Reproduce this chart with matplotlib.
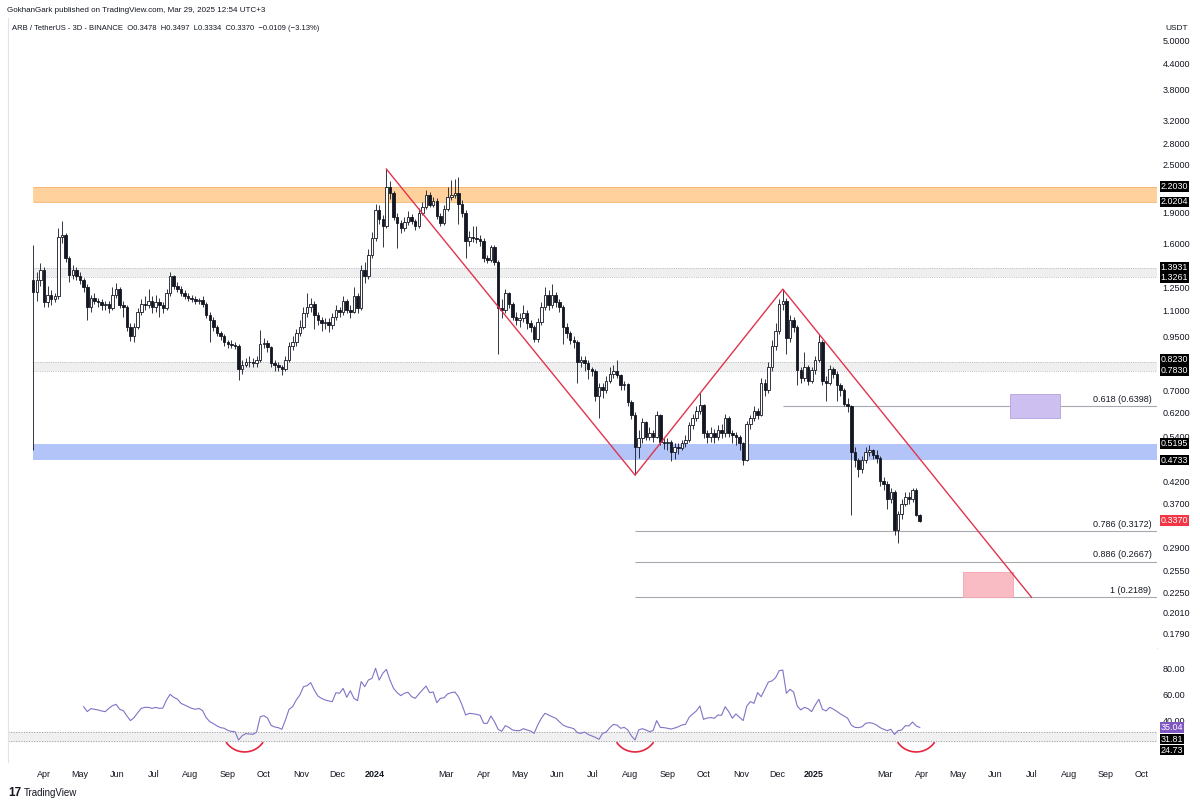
import numpy as np
import matplotlib.pyplot as plt
import matplotlib.dates as mdates
from matplotlib.patches import Rectangle
from matplotlib.ticker import NullLocator, NullFormatter

plt.rcParams['font.family'] = ['Liberation Sans', 'DejaVu Sans']

# ---------------- data ----------------
first_bar = np.datetime64('2023-03-23')
bar_days = 3
first_open = 1.30

closes = [
    1.22, 1.30, 1.38, 1.15, 1.20, 1.17, 1.19, 1.66, 1.68, 1.47,
    1.34, 1.38, 1.33, 1.30, 1.25, 1.12, 1.18, 1.16, 1.15, 1.13,
    1.14, 1.11, 1.20, 1.24, 1.13, 1.12, 1.00, 0.95, 1.00, 1.09,
    1.14, 1.13, 1.16, 1.12, 1.15, 1.13, 1.11, 1.21, 1.33, 1.26,
    1.24, 1.21, 1.19, 1.18, 1.17, 1.16, 1.165, 1.14, 1.07, 1.04,
    1.00, 0.965, 0.95, 0.92, 0.91, 0.905, 0.90, 0.79, 0.81, 0.82,
    0.822, 0.815, 0.83, 0.91, 0.915, 0.895, 0.815, 0.81, 0.80, 0.79,
    0.83, 0.90, 0.92, 0.965, 1.00, 1.08, 1.12, 1.14, 1.07, 1.04,
    1.02, 1.03, 1.01, 1.06, 1.10, 1.09, 1.16, 1.10, 1.09, 1.19,
    1.11, 1.38, 1.33, 1.50, 1.65, 1.93, 1.84, 1.76, 2.20, 2.12,
    1.86, 1.79, 1.74, 1.80, 1.86, 1.81, 1.76, 1.90, 1.96, 2.10,
    1.99, 2.03, 1.87, 1.79, 1.94, 2.08, 2.10, 2.12, 2.00, 1.90,
    1.62, 1.66, 1.65, 1.64, 1.62, 1.47, 1.46, 1.57, 1.44, 1.11,
    1.10, 1.21, 1.14, 1.06, 1.04, 1.05, 1.08, 1.02, 1.00, 0.935,
    1.03, 1.12, 1.20, 1.13, 1.20, 1.15, 1.12, 1.00, 0.965, 0.93,
    0.92, 0.82, 0.83, 0.815, 0.79, 0.78, 0.68, 0.715, 0.70, 0.74,
    0.77, 0.78, 0.765, 0.72, 0.725, 0.655, 0.61, 0.51, 0.535, 0.585,
    0.54, 0.55, 0.54, 0.61, 0.525, 0.52, 0.525, 0.495, 0.51, 0.507,
    0.52, 0.53, 0.575, 0.60, 0.625, 0.645, 0.55, 0.54, 0.55, 0.54,
    0.56, 0.55, 0.60, 0.55, 0.545, 0.54, 0.52, 0.473, 0.58, 0.60,
    0.625, 0.61, 0.73, 0.70, 0.80, 0.90, 0.98, 1.14, 1.16, 0.94,
    1.04, 1.00, 0.785, 0.75, 0.80, 0.74, 0.785, 0.83, 0.92, 0.74,
    0.73, 0.79, 0.77, 0.72, 0.70, 0.65, 0.64, 0.495, 0.473, 0.45,
    0.473, 0.495, 0.50, 0.488, 0.478, 0.42, 0.413, 0.38, 0.395, 0.32,
    0.35, 0.37, 0.385, 0.38, 0.40, 0.3478, 0.3370]

highs = [
    1.59, 1.36, 1.43, 1.40, 1.26, 1.23, 1.21, 1.74, 1.81, 1.70,
    1.49, 1.42, 1.40, 1.36, 1.32, 1.27, 1.20, 1.21, 1.18, 1.17,
    1.16, 1.16, 1.25, 1.28, 1.25, 1.16, 1.13, 1.02, 1.02, 1.11,
    1.17, 1.19, 1.24, 1.19, 1.20, 1.18, 1.15, 1.24, 1.36, 1.34,
    1.29, 1.26, 1.23, 1.21, 1.20, 1.19, 1.18, 1.19, 1.15, 1.09,
    1.06, 1.01, 0.98, 0.96, 0.93, 0.93, 0.92, 0.91, 0.83, 0.84,
    0.85, 0.84, 0.85, 0.985, 0.94, 0.93, 0.90, 0.83, 0.82, 0.81,
    0.85, 0.92, 0.95, 0.99, 1.04, 1.12, 1.21, 1.18, 1.16, 1.09,
    1.06, 1.05, 1.05, 1.08, 1.13, 1.12, 1.19, 1.17, 1.13, 1.25,
    1.21, 1.42, 1.44, 1.55, 1.71, 2.00, 1.98, 1.88, 2.43, 2.27,
    2.15, 1.90, 1.82, 1.86, 1.92, 1.89, 1.84, 1.95, 2.02, 2.16,
    2.13, 2.08, 2.06, 1.90, 1.98, 2.20, 2.28, 2.30, 2.33, 2.04,
    1.93, 1.72, 1.76, 1.76, 1.68, 1.65, 1.50, 1.59, 1.59, 1.46,
    1.17, 1.24, 1.22, 1.15, 1.09, 1.08, 1.13, 1.10, 1.04, 1.01,
    1.05, 1.15, 1.25, 1.23, 1.27, 1.22, 1.17, 1.13, 1.02, 0.98,
    0.95, 0.93, 0.85, 0.85, 0.83, 0.80, 0.79, 0.73, 0.73, 0.76,
    0.80, 0.81, 0.83, 0.77, 0.74, 0.73, 0.665, 0.62, 0.56, 0.60,
    0.59, 0.57, 0.56, 0.625, 0.615, 0.535, 0.535, 0.53, 0.52, 0.52,
    0.53, 0.545, 0.585, 0.615, 0.64, 0.69, 0.65, 0.56, 0.57, 0.565,
    0.575, 0.58, 0.615, 0.605, 0.56, 0.555, 0.545, 0.525, 0.59, 0.61,
    0.64, 0.635, 0.75, 0.745, 0.82, 0.93, 1.02, 1.17, 1.237, 1.18,
    1.07, 1.06, 1.01, 0.80, 0.87, 0.81, 0.80, 0.85, 0.96, 0.93,
    0.76, 0.81, 0.80, 0.78, 0.73, 0.71, 0.67, 0.645, 0.51, 0.48,
    0.485, 0.51, 0.515, 0.505, 0.50, 0.485, 0.43, 0.42, 0.405, 0.40,
    0.355, 0.38, 0.395, 0.395, 0.405, 0.405, 0.3497]

lows = [
    0.50, 1.16, 1.26, 1.12, 1.12, 1.13, 1.15, 1.17, 1.60, 1.44,
    1.29, 1.31, 1.30, 1.27, 1.22, 1.04, 1.09, 1.14, 1.12, 1.10,
    1.10, 1.08, 1.10, 1.18, 1.11, 1.06, 0.98, 0.925, 0.92, 0.99,
    1.07, 1.10, 1.11, 1.08, 1.09, 1.06, 1.08, 1.10, 1.19, 1.24,
    1.22, 1.19, 1.17, 1.16, 1.15, 1.14, 1.14, 1.12, 1.05, 0.92,
    0.98, 0.95, 0.93, 0.90, 0.89, 0.89, 0.885, 0.742, 0.77, 0.80,
    0.80, 0.80, 0.80, 0.82, 0.89, 0.87, 0.80, 0.78, 0.78, 0.765,
    0.78, 0.82, 0.88, 0.90, 0.95, 0.99, 1.06, 1.09, 0.99, 1.01,
    0.98, 0.99, 0.97, 0.99, 1.04, 1.06, 1.07, 1.08, 1.05, 1.08,
    1.08, 1.10, 1.28, 1.31, 1.47, 1.62, 1.78, 1.57, 1.74, 2.05,
    1.83, 1.56, 1.70, 1.72, 1.77, 1.78, 1.73, 1.74, 1.88, 1.94,
    1.96, 1.96, 1.84, 1.76, 1.77, 1.92, 2.04, 2.06, 1.78, 1.86,
    1.47, 1.58, 1.61, 1.60, 1.58, 1.44, 1.43, 1.44, 1.42, 0.86,
    1.05, 1.08, 1.11, 1.04, 1.01, 1.00, 1.03, 0.99, 0.97, 0.92,
    0.92, 1.01, 1.10, 1.10, 1.11, 1.12, 1.09, 0.91, 0.94, 0.91,
    0.89, 0.73, 0.80, 0.78, 0.745, 0.76, 0.66, 0.60, 0.67, 0.69,
    0.73, 0.75, 0.75, 0.70, 0.70, 0.64, 0.595, 0.435, 0.48, 0.52,
    0.53, 0.53, 0.525, 0.535, 0.515, 0.505, 0.50, 0.47, 0.475, 0.49,
    0.50, 0.51, 0.525, 0.565, 0.59, 0.615, 0.535, 0.52, 0.525, 0.52,
    0.53, 0.535, 0.54, 0.54, 0.52, 0.515, 0.50, 0.46, 0.47, 0.565,
    0.59, 0.595, 0.605, 0.68, 0.69, 0.78, 0.88, 0.96, 1.10, 0.86,
    0.92, 0.97, 0.72, 0.73, 0.74, 0.72, 0.73, 0.77, 0.82, 0.72,
    0.66, 0.72, 0.75, 0.66, 0.68, 0.64, 0.62, 0.347, 0.455, 0.43,
    0.44, 0.465, 0.485, 0.475, 0.465, 0.41, 0.40, 0.36, 0.372, 0.31,
    0.297, 0.34, 0.365, 0.37, 0.375, 0.345, 0.3334]

rsi_first = 14
rsi = [
    51.0, 47.2, 49.5, 49.0, 48.5, 47.7, 47.2, 49.7, 51.8, 52.8,
    49.0, 48.0, 43.9, 40.3, 42.6, 46.4, 49.7, 50.5, 50.5, 49.7,
    50.5, 49.7, 50.0, 56.2, 60.5, 58.2, 56.9, 53.6, 52.3, 51.0,
    49.7, 49.0, 49.7, 48.0, 42.6, 39.5, 38.0, 36.2, 34.9, 34.4,
    32.8, 32.0, 31.8, 25.4, 28.7, 30.3, 30.0, 29.7, 31.5, 43.3,
    44.1, 42.3, 36.7, 35.4, 34.9, 33.6, 40.8, 49.0, 51.0, 56.2,
    60.0, 66.4, 67.2, 69.5, 63.8, 59.2, 57.4, 56.2, 55.4, 54.9,
    61.8, 61.3, 65.1, 58.2, 63.3, 57.4, 55.6, 70.3, 66.4, 71.5,
    72.8, 80.5, 71.5, 76.7, 79.7, 71.5, 65.1, 61.8, 59.5, 61.3,
    62.1, 58.7, 57.4, 60.8, 63.8, 66.9, 61.8, 62.3, 54.1, 57.4,
    57.9, 60.8, 61.8, 62.3, 58.7, 52.3, 44.6, 45.9, 45.6, 45.1,
    44.4, 38.2, 38.2, 43.8, 39.5, 33.6, 32.1, 36.4, 35.1, 33.1,
    32.6, 32.6, 34.1, 33.1, 32.3, 30.5, 36.9, 42.1, 45.9, 44.6,
    43.3, 42.1, 39.5, 36.9, 35.6, 34.9, 34.1, 31.0, 30.5, 31.5,
    29.7, 28.5, 27.4, 25.9, 30.5, 31.5, 34.9, 37.4, 36.9, 34.4,
    35.1, 33.1, 28.5, 25.4, 33.1, 34.1, 33.1, 31.8, 32.6, 40.3,
    35.1, 34.9, 34.4, 33.8, 34.6, 35.6, 36.9, 37.4, 42.8, 45.4,
    47.7, 51.5, 41.3, 42.3, 42.6, 42.1, 44.6, 44.4, 51.0, 47.2,
    42.1, 45.4, 42.8, 40.3, 51.5, 54.9, 53.6, 61.8, 58.7, 64.4,
    70.0, 70.8, 73.3, 78.7, 79.2, 61.3, 64.4, 62.3, 51.5, 48.5,
    50.5, 49.5, 47.2, 52.3, 56.7, 49.0, 47.7, 50.5, 49.2, 47.4,
    45.4, 43.8, 42.1, 36.9, 35.1, 34.9, 35.6, 38.2, 38.7, 38.2,
    36.9, 34.9, 33.6, 32.6, 33.6, 29.7, 32.6, 33.1, 36.4, 36.2,
    39.2, 36.2, 35.04]

orange_zone = (2.0204, 2.2030)
grey_zones = [(1.3261, 1.3931), (0.7830, 0.8230)]
blue_zone = (0.4733, 0.5195)

zigzag_dates = ['2024-01-11', '2024-08-05', '2024-12-06', '2025-07-01']
zigzag_prices = [2.43, 0.435, 1.237, 0.2189]

fib_ratios = ['0.618', '0.786', '0.886', '1']
fib_prices = [0.6398, 0.3172, 0.2667, 0.2189]
fib_starts = ['2024-12-06', '2024-08-05', '2024-08-05', '2024-08-05']

purple_box = ('2025-06-13', '2025-07-25', 0.599, 0.686)
pink_box = ('2025-05-05', '2025-06-16', 0.2189, 0.252)

rsi_band = (24.73, 31.81)
arc_centers = ['2023-09-15', '2024-08-05', '2025-03-27']

price_ticks = [5.0, 4.4, 3.8, 3.2, 2.8, 2.5, 1.9, 1.6, 1.25, 1.1, 0.95, 0.70,
               0.62, 0.54, 0.42, 0.37, 0.29, 0.255, 0.225, 0.201, 0.179]
rsi_ticks = [80, 60, 40]

month_ticks = ['2023-04-01', '2023-05-01', '2023-06-01', '2023-07-01', '2023-08-01',
               '2023-09-01', '2023-10-01', '2023-11-01', '2023-12-01', '2024-01-01',
               '2024-03-01', '2024-04-01', '2024-05-01', '2024-06-01', '2024-07-01',
               '2024-08-01', '2024-09-01', '2024-10-01', '2024-11-01', '2024-12-01',
               '2025-01-01', '2025-03-01', '2025-04-01', '2025-05-01', '2025-06-01',
               '2025-07-01', '2025-08-01', '2025-09-01', '2025-10-01']
month_labels = ['Apr', 'May', 'Jun', 'Jul', 'Aug', 'Sep', 'Oct', 'Nov', 'Dec', '2024',
                'Mar', 'Apr', 'May', 'Jun', 'Jul', 'Aug', 'Sep', 'Oct', 'Nov', 'Dec',
                '2025', 'Mar', 'Apr', 'May', 'Jun', 'Jul', 'Aug', 'Sep', 'Oct']

# ---------------- figure ----------------
W, H = 1200, 805
INK = '#131722'


def frame(l, t, r, b):
    return [l / W, 1 - b / H, (r - l) / W, (b - t) / H]


def dnum(s):
    return mdates.date2num(np.datetime64(s))


fig = plt.figure(figsize=(12, 8.05), dpi=100)
ax = fig.add_axes(frame(8, 18, 1157, 648))
rx = fig.add_axes(frame(8, 648, 1157, 762))

x = mdates.date2num(first_bar + np.arange(len(closes)) * bar_days)
c = np.array(closes)
o = np.r_[first_open, c[:-1]]
hi = np.array(highs)
lo = np.array(lows)
up = c >= o

x_left = dnum('2023-04-01') - 36 / 1.2013
x_right = dnum('2023-04-01') + 1113 / 1.2013

# zones
ax.add_patch(Rectangle((x[0], orange_zone[0]), x_right - x[0], orange_zone[1] - orange_zone[0],
                       fc='#ffd19c', ec='none', zorder=1))
ax.hlines(orange_zone, x[0], x_right, color='#f0b46e', lw=0.6, zorder=1)
for z in grey_zones:
    ax.add_patch(Rectangle((x[0], z[0]), x_right - x[0], z[1] - z[0],
                           fc='#efefef', ec='none', zorder=1))
    ax.hlines(z, x[0], x_right, color='#a9acb4', lw=0.6, ls=':', zorder=1)
ax.add_patch(Rectangle((x[0], blue_zone[0]), x_right - x[0], blue_zone[1] - blue_zone[0],
                       fc='#b3c5f8', ec='none', zorder=1))

# fib levels
for r, p, s in zip(fib_ratios, fib_prices, fib_starts):
    ax.hlines(p, dnum(s), x_right, color='#a6a9b0', lw=0.8, zorder=2)
    ax.annotate(f'{r} ({p:.4f})', xy=(1, p), xycoords=ax.get_yaxis_transform(),
                xytext=(-4, 2), textcoords='offset points', ha='right', va='bottom',
                fontsize=6.5, color=INK)

# target boxes
for (d0, d1, p0, p1), fc, ec in [(purple_box, '#cdbff0', '#b3a1e0'),
                                 (pink_box, '#f9bcc5', '#f4a3ae')]:
    ax.add_patch(Rectangle((dnum(d0), p0), dnum(d1) - dnum(d0), p1 - p0,
                           fc=fc, ec=ec, lw=0.6, zorder=2))

# candles
ax.vlines(x, lo, hi, color=INK, lw=0.6, zorder=3)
ax.bar(x[up], (c - o)[up], bottom=o[up], width=2.1, color='white',
       edgecolor=INK, lw=0.6, zorder=4)
ax.bar(x[~up], (o - c)[~up], bottom=c[~up], width=2.1, color=INK,
       edgecolor=INK, lw=0.6, zorder=4)

# zigzag
ax.plot([dnum(d) for d in zigzag_dates], zigzag_prices, color='#e2334f', lw=1.0, zorder=5)

ax.set_yscale('log')
ax.set_ylim(0.1646, 5.68)
ax.set_xlim(x_left, x_right)
ax.yaxis.tick_right()
ax.set_yticks(price_ticks)
ax.set_yticklabels([f'{v:.4f}' for v in price_ticks])
ax.yaxis.set_minor_locator(NullLocator())
ax.yaxis.set_minor_formatter(NullFormatter())
ax.tick_params(axis='y', length=0, pad=4, labelsize=6.5, colors=INK)
ax.tick_params(axis='x', bottom=False, labelbottom=False)


# price tags
def tag(axis, value, text, color, dy=0):
    axis.annotate(text, xy=(1, value), xycoords=axis.get_yaxis_transform(),
                  xytext=(2.5, dy), textcoords='offset points', ha='left', va='center',
                  fontsize=6.4, color='white', annotation_clip=False, zorder=10,
                  bbox=dict(boxstyle='square,pad=0.08', fc=color, ec='none'))


tag(ax, orange_zone[1], f'{orange_zone[1]:.4f}', 'black')
tag(ax, orange_zone[0], f'{orange_zone[0]:.4f}', 'black')
tag(ax, grey_zones[0][1], f'{grey_zones[0][1]:.4f}', 'black', dy=0.6)
tag(ax, grey_zones[0][0], f'{grey_zones[0][0]:.4f}', 'black', dy=-0.6)
tag(ax, grey_zones[1][1], f'{grey_zones[1][1]:.4f}', 'black', dy=1.6)
tag(ax, grey_zones[1][0], f'{grey_zones[1][0]:.4f}', 'black')
tag(ax, blue_zone[1], f'{blue_zone[1]:.4f}', 'black')
tag(ax, blue_zone[0], f'{blue_zone[0]:.4f}', 'black')
tag(ax, closes[-1], f'{closes[-1]:.4f}', '#f23645')

# RSI pane
rx.axhspan(rsi_band[0], rsi_band[1], color='#f0f0f0', zorder=1)
rx.axhline(rsi_band[0], color='#9598a1', lw=0.7, ls=':', zorder=2)
rx.axhline(rsi_band[1], color='#9598a1', lw=0.7, ls=':', zorder=2)
rx.plot(x[rsi_first:], rsi, color='#7e74c6', lw=0.8, zorder=3)

t = np.linspace(-0.93, 0.93, 40)
for cdate in arc_centers:
    rx.plot(dnum(cdate) + 15 * np.sin(t) / np.sin(0.93),
            16.2 + 7 * (1 - np.cos(t)) / (1 - np.cos(0.93)),
            color='#e5253f', lw=1.2, zorder=3)

rx.set_ylim(8.46, 96.15)
rx.set_xlim(x_left, x_right)
rx.yaxis.tick_right()
rx.set_yticks(rsi_ticks)
rx.set_yticklabels([f'{v:.2f}' for v in rsi_ticks])
rx.tick_params(axis='y', length=0, pad=4, labelsize=6.5, colors=INK)
rx.set_xticks([dnum(m) for m in month_ticks])
rx.set_xticklabels(month_labels)
rx.tick_params(axis='x', length=0, pad=6, labelsize=6.5, colors=INK)
for lab in rx.get_xticklabels():
    if lab.get_text().startswith('20'):
        lab.set_fontweight('bold')

tag(rx, rsi[-1], f'{rsi[-1]:.2f}', '#7e57c2')
tag(rx, rsi_band[1], f'{rsi_band[1]:.2f}', 'black', dy=-5.3)
tag(rx, rsi_band[0], f'{rsi_band[0]:.2f}', 'black', dy=-6.6)

for a in (ax, rx):
    for s in ('top', 'right'):
        a.spines[s].set_visible(False)
    a.spines['left'].set_color('#e0e3eb')
    a.spines['left'].set_linewidth(0.8)
ax.spines['bottom'].set_color('#e0e3eb')
ax.spines['bottom'].set_linewidth(0.8)
rx.spines['bottom'].set_visible(False)

# header and footer text
fig.text(7 / W, 1 - 10 / H, 'GokhanGark published on TradingView.com, Mar 29, 2025 12:54 UTC+3',
         fontsize=5.8, color=INK, va='center')
fig.text(12 / W, 1 - 28 / H,
         'ARB / TetherUS - 3D - BINANCE  O0.3478  H0.3497  L0.3334  C0.3370  \u22120.0109 (\u22123.13%)',
         fontsize=5.5, color=INK, va='center')
fig.text(1177 / W, 1 - 29 / H, 'USDT', fontsize=6, color=INK, ha='center', va='center', zorder=20,
         bbox=dict(boxstyle='square,pad=0.4', fc='white', ec='none'))
fig.text(8 / W, 1 - 793 / H, '17', fontsize=8.5, fontweight='bold', color=INK, va='center')
fig.text(24 / W, 1 - 793 / H, 'TradingView', fontsize=7, color=INK, va='center')

fig.savefig('out.png', dpi=100)
